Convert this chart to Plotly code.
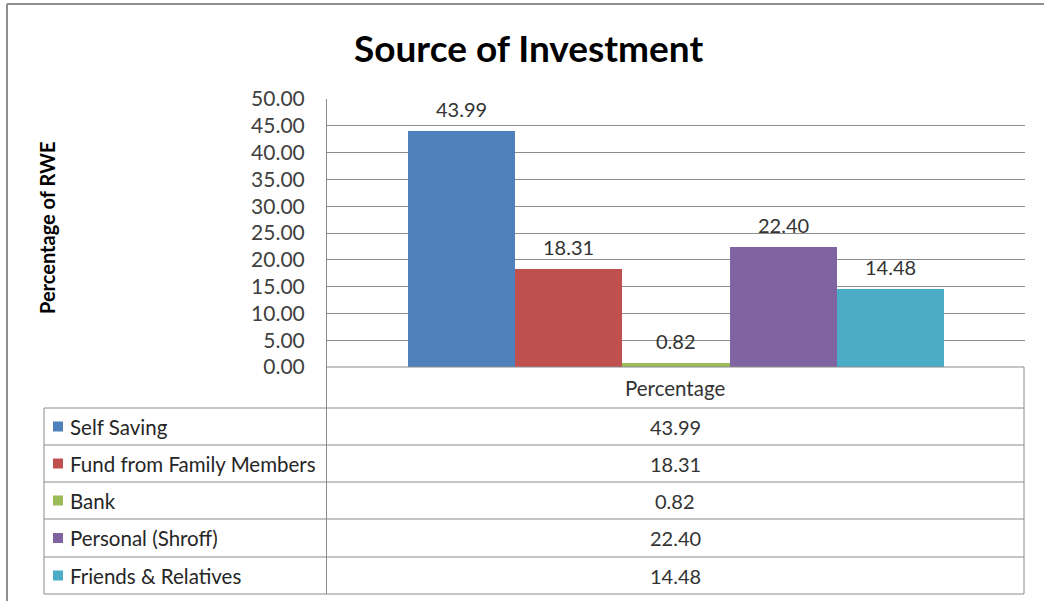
import plotly.graph_objects as go

# Source of investment shares (percent of RWE)
categories = ["Percentage"]
series = ["Self Saving", "Fund from Family Members", "Bank", "Personal (Shroff)", "Friends & Relatives"]
values = [43.99, 18.31, 0.82, 22.40, 14.48]
colors = ["#4F81BD", "#C0504D", "#9BBB59", "#8064A2", "#4BACC6"]
y_ticks = [0, 5, 10, 15, 20, 25, 30, 35, 40, 45, 50]

W, H = 1044, 601
L, R, T, B = 327, 1025, 99, 367  # plot area in pixels

FONT = "Lato"
GRID = "#8c8c8c"
LINE = "#8a8a8a"


def px(x):
    return (x - L) / (R - L)


def py(y):
    return (B - y) / (B - T)


fig = go.Figure()
for i, (name, v, c) in enumerate(zip(series, values, colors)):
    fig.add_trace(go.Bar(x=[i], y=[v], name=name, width=1.0,
                         marker=dict(color=c, line=dict(width=0)),
                         showlegend=False, hoverinfo="name+y"))
    fig.add_annotation(x=i, y=v, xref="x", yref="y", text=f"{v:.2f}",
                       showarrow=False, yshift=22, yanchor="middle",
                       xanchor="center",
                       font=dict(family=FONT, size=20, color="#333333"))

fig.update_layout(
    width=W, height=H,
    margin=dict(l=L, r=W - R, t=T, b=H - B, pad=0),
    paper_bgcolor="white", plot_bgcolor="white",
    font=dict(family=FONT, color="#404040"),
    showlegend=False,
    bargap=0,
)
fig.update_xaxes(range=[-1.25, 5.25], showticklabels=False, showgrid=False,
                 zeroline=False, showline=False, fixedrange=True)
fig.update_yaxes(range=[0, 50], tickvals=y_ticks, tickformat=".2f",
                 showgrid=True, gridcolor=GRID, gridwidth=1,
                 zeroline=False, showline=False,
                 ticks="outside", ticklen=17, tickcolor="rgba(0,0,0,0)",
                 tickfont=dict(family=FONT, size=21, color="#404040"))

shapes = []


def hline(x0, x1, y, color=LINE, w=1):
    shapes.append(dict(type="line", xref="paper", yref="paper",
                       x0=px(x0), x1=px(x1), y0=py(y), y1=py(y),
                       line=dict(color=color, width=w), layer="above"))


def vline(x, y0, y1, color=LINE, w=1):
    shapes.append(dict(type="line", xref="paper", yref="paper",
                       x0=px(x), x1=px(x), y0=py(y0), y1=py(y1),
                       line=dict(color=color, width=w), layer="above"))


# outer chart frame
hline(7, 1044, 4, color="#8f8f8f", w=2)
vline(7, 4, 601, color="#8f8f8f", w=2)

# value axis line, continuing down as the data-table divider
vline(326.5, T, 594)

# data table grid
tbl_left, tbl_right = 44, 1024
row_edges = [408, 445, 482, 519, 557, 594]
hline(326.5, tbl_right, B)
for yy in row_edges:
    hline(tbl_left, tbl_right, yy)
vline(tbl_left, 408, 594)
vline(tbl_right, B, 594)

annotations = []
# header cell
annotations.append(dict(xref="paper", yref="paper", x=px(675), y=py(388),
                        xanchor="center", yanchor="middle",
                        text=categories[0], showarrow=False,
                        font=dict(family=FONT, size=20.5, color="#333333")))

for k, (name, v, c) in enumerate(zip(series, values, colors)):
    top, bot = row_edges[k], row_edges[k + 1]
    cy = (top + bot) / 2
    shapes.append(dict(type="rect", xref="paper", yref="paper",
                       x0=px(53), x1=px(63), y0=py(cy - 5), y1=py(cy + 5),
                       fillcolor=c, line=dict(width=0)))
    annotations.append(dict(xref="paper", yref="paper", x=px(68), y=py(cy),
                            xanchor="left", yanchor="middle",
                            text=name, showarrow=False,
                            font=dict(family=FONT, size=20.5, color="#262626")))
    annotations.append(dict(xref="paper", yref="paper", x=px(675), y=py(cy),
                            xanchor="center", yanchor="middle",
                            text=f"{v:.2f}", showarrow=False,
                            font=dict(family=FONT, size=20, color="#333333")))

# chart title and axis title
annotations.append(dict(xref="paper", yref="paper", x=px(528), y=py(47),
                        xanchor="center", yanchor="middle",
                        text="<b>Source of Investment</b>", showarrow=False,
                        font=dict(family=FONT, size=37, color="#000000")))
annotations.append(dict(xref="paper", yref="paper", x=px(47), y=py(228),
                        xanchor="center", yanchor="middle",
                        text="<b>Percentage of RWE</b>", showarrow=False,
                        textangle=-90,
                        font=dict(family=FONT, size=20, color="#000000")))

for a in annotations:
    fig.add_annotation(**a)
fig.update_layout(shapes=shapes)

fig.write_html("out.html")
